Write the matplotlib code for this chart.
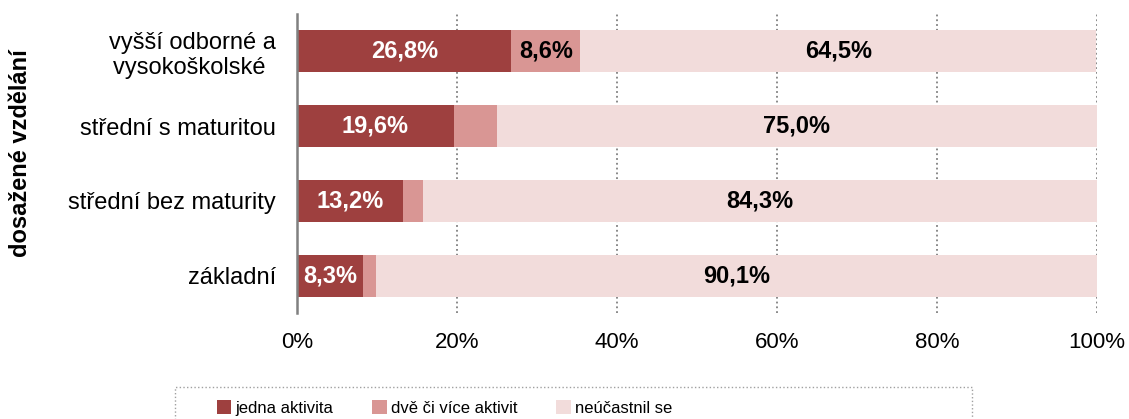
import matplotlib.pyplot as plt
from matplotlib.patches import Rectangle, Patch

plt.rcParams['font.family'] = ['Liberation Sans', 'DejaVu Sans']

# categories, top to bottom
categories = ["vyšší odborné a\nvysokoškolské ", "střední s maturitou",
              "střední bez maturity", "základní"]
jedna = [26.8, 19.6, 13.2, 8.3]
dve = [8.6, 5.4, 2.5, 1.6]
neucast = [64.5, 75.0, 84.3, 90.1]
series_names = ["jedna aktivita", "dvě či více aktivit", "neúčastnil se"]
colors = ["#9E403F", "#D99694", "#F2DCDB"]

def fmt(v):
    return f"{v:.1f}%".replace(".", ",")

fig = plt.figure(figsize=(11.29, 4.19), dpi=100)
ax = fig.add_axes([297 / 1129, 106 / 419, 800 / 1129, 299 / 419])

ypos = [3, 2, 1, 0]
h = 0.56
ax.barh(ypos, jedna, height=h, color=colors[0], zorder=2)
ax.barh(ypos, dve, left=jedna, height=h, color=colors[1], zorder=2)
left3 = [a + b for a, b in zip(jedna, dve)]
ax.barh(ypos, neucast, left=left3, height=h, color=colors[2], zorder=2)

for y, a, b, c, l3 in zip(ypos, jedna, dve, neucast, left3):
    ax.text(a / 2, y, fmt(a), ha='center', va='center', color='white',
            fontsize=17, fontweight='bold', zorder=3)
    if b >= 5.5:
        ax.text(a + b / 2, y, fmt(b), ha='center', va='center', color='black',
                fontsize=17, fontweight='bold', zorder=3)
    ax.text(l3 + c / 2, y, fmt(c), ha='center', va='center', color='black',
            fontsize=17, fontweight='bold', zorder=3)

ax.set_xlim(0, 100)
ax.set_ylim(-0.5, 3.5)
ax.set_xticks([0, 20, 40, 60, 80, 100])
ax.set_xticklabels(["0%", "20%", "40%", "60%", "80%", "100%"], fontsize=16)
ax.set_yticks(ypos)
ax.set_yticklabels(categories, fontsize=17)
for lbl in ax.get_yticklabels():
    lbl.set_multialignment('center')
ax.tick_params(axis='both', length=0)
ax.tick_params(axis='y', pad=15)
ax.tick_params(axis='x', pad=14)

for s in ['top', 'right', 'bottom']:
    ax.spines[s].set_visible(False)
ax.spines['left'].set_color('#808080')
ax.spines['left'].set_linewidth(1.8)

ax.set_axisbelow(True)
ax.xaxis.grid(True, linestyle=':', color='#808080', linewidth=1.3)

fig.text(21 / 1129, 1 - 153 / 419, "dosažené vzdělání", rotation=90,
         ha='center', va='center', fontsize=17, fontweight='bold')

# legend frame
fig.patches.append(Rectangle((175 / 1129, -0.05), 797 / 1129, 32 / 419 + 0.05,
                             transform=fig.transFigure, fill=False,
                             edgecolor='#A0A0A0', linestyle=':', linewidth=1))
handles = [Patch(facecolor=c, edgecolor='none') for c in colors]
fig.legend(handles, series_names, loc='center left',
           bbox_to_anchor=(217 / 1129, 11 / 419), ncol=3, frameon=False,
           fontsize=12, handlelength=0.85, handleheight=0.85, handletextpad=0.25,
           columnspacing=2.35, borderpad=0, borderaxespad=0)

fig.savefig("out.png", dpi=100)
